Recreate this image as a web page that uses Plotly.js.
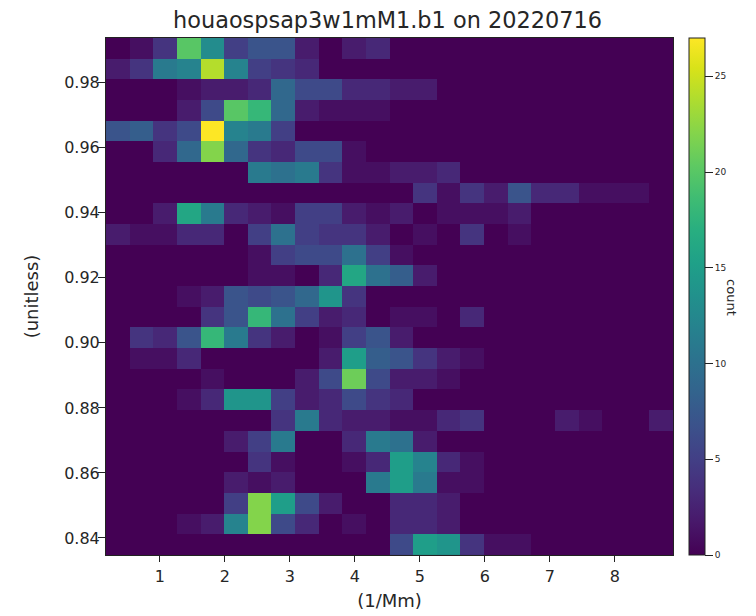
<!DOCTYPE html>
<html>
<head>
<meta charset="utf-8">
<script src="https://cdn.plot.ly/plotly-3.0.1.min.js"></script>
<style>html,body{margin:0;padding:0;background:#fff;}</style>
</head>
<body>
<div id="chart" style="width:756px;height:616px;"></div>
<script>
const xCenters = [0.352,0.715,1.079,1.442,1.806,2.169,2.533,2.896,3.26,3.623,3.987,4.35,4.714,5.077,5.441,5.804,6.168,6.531,6.895,7.258,7.622,7.985,8.349,8.712];
const yCentersTopFirst = [0.99059,0.98423,0.97787,0.97151,0.96515,0.95879,0.95243,0.94607,0.93971,0.93335,0.92699,0.92063,0.91427,0.90791,0.90155,0.89519,0.88883,0.88247,0.87611,0.86975,0.86339,0.85703,0.85067,0.84431,0.83795];
const countsTopFirst = [
[0,1,4,20,13,5,7,7,2,0,2,3,0,0,0,0,0,0,0,0,0,0,0,0],
[2,4,11,12,24,12,5,4,3,0,0,0,0,0,0,0,0,0,0,0,0,0,0,0],
[0,0,0,1,2,2,3,9,6,6,3,3,2,2,0,0,0,0,0,0,0,0,0,0],
[0,0,0,2,6,20,18,9,2,1,1,1,0,0,0,0,0,0,0,0,0,0,0,0],
[7,8,4,6,27,12,11,5,0,0,0,0,0,0,0,0,0,0,0,0,0,0,0,0],
[0,0,3,9,22,9,4,3,6,6,1,0,0,0,0,0,0,0,0,0,0,0,0,0],
[0,0,0,0,0,0,11,10,11,4,1,1,2,2,3,0,0,0,0,0,0,0,0,0],
[0,0,0,0,0,0,0,0,0,0,0,0,0,4,1,4,2,7,3,3,1,1,1,0],
[0,0,2,16,11,3,2,1,5,5,2,1,2,0,1,1,1,2,0,0,0,0,0,0],
[2,1,1,3,3,0,5,10,5,4,4,2,0,1,0,4,0,1,0,0,0,0,0,0],
[0,0,0,0,0,0,1,5,6,6,10,5,1,0,0,0,0,0,0,0,0,0,0,0],
[0,0,0,0,0,0,1,1,0,3,16,10,8,2,0,0,0,0,0,0,0,0,0,0],
[0,0,0,1,2,7,6,7,9,14,4,0,0,0,0,0,0,0,0,0,0,0,0,0],
[0,0,0,0,4,7,18,10,5,2,3,0,1,1,0,3,0,0,0,0,0,0,0,0],
[0,4,3,7,18,11,4,2,0,1,5,7,2,0,0,0,0,0,0,0,0,0,0,0],
[0,1,1,3,0,0,0,0,0,2,15,8,7,4,2,1,0,0,0,0,0,0,0,0],
[0,0,0,0,1,0,0,0,2,6,21,6,2,2,1,0,0,0,0,0,0,0,0,0],
[0,0,0,1,3,14,14,5,2,3,6,4,3,0,0,0,0,0,0,0,0,0,0,0],
[0,0,0,0,0,0,0,4,11,3,2,2,1,1,3,4,0,0,0,2,1,0,0,2],
[0,0,0,0,0,2,5,11,0,0,3,11,10,2,0,0,0,0,0,0,0,0,0,0],
[0,0,0,0,0,0,4,1,0,0,1,3,15,12,3,1,0,0,0,0,0,0,0,0],
[0,0,0,0,0,2,1,2,0,0,0,11,15,11,1,1,0,0,0,0,0,0,0,0],
[0,0,0,0,0,5,22,15,6,2,0,0,3,3,2,0,0,0,0,0,0,0,0,0],
[0,0,0,1,2,12,22,6,3,0,1,0,3,3,2,0,0,0,0,0,0,0,0,0],
[0,0,0,0,0,0,0,0,0,0,0,0,6,15,14,4,1,1,0,0,0,0,0,0]
];
const colorbarTicks = [0,5,10,15,20,25];
const chartTitle = 'houaospsap3w1mM1.b1 on 20220716';
const xLabel = '(1/Mm)';
const yLabel = '(unitless)';
const colorbarLabel = 'count';

const FONT = 'DejaVu Sans, sans-serif';
const INK = '#262626';

const trace = {
  type: 'heatmap',
  x: xCenters,
  y: yCentersTopFirst.slice().reverse(),
  z: countsTopFirst.slice().reverse(),
  colorscale: 'Viridis',
  zmin: 0,
  zmax: 27,
  colorbar: {
    x: 1.0282,
    xanchor: 'left',
    xpad: 0,
    ypad: 0,
    y: 0.5,
    yanchor: 'middle',
    len: 1,
    thickness: 16,
    outlinewidth: 1,
    outlinecolor: '#222',
    tickmode: 'array',
    tickvals: colorbarTicks,
    ticks: 'outside',
    ticklen: 8,
    tickwidth: 1,
    tickcolor: '#222',
    tickfont: {family: FONT, size: 9, color: INK}
  }
};

const layout = {
  width: 756,
  height: 616,
  autosize: false,
  paper_bgcolor: '#ffffff',
  plot_bgcolor: '#440154',
  margin: {l: 106, r: 83, t: 38, b: 61, pad: 0},
  title: {text: chartTitle, font: {family: FONT, size: 22.4, color: INK}, xref: 'paper', x: 0.4965, xanchor: 'center', yref: 'container', y: 0.9675, yanchor: 'middle'},
  xaxis: {
    range: [0.17, 8.894],
    tickmode: 'linear', tick0: 0, dtick: 1,
    ticks: 'outside', ticklen: 6, tickwidth: 1, tickcolor: '#222',
    ticklabelstandoff: 1,
    showline: true, mirror: true, linecolor: '#222', linewidth: 1,
    showgrid: false, zeroline: false,
    tickfont: {family: FONT, size: 16, color: INK},
    title: {text: xLabel, font: {family: FONT, size: 18, color: INK}, standoff: 9}
  },
  yaxis: {
    range: [0.83477, 0.99375],
    tickmode: 'linear', tick0: 0.84, dtick: 0.02, tickformat: '.2f',
    ticks: 'outside', ticklen: 7, tickwidth: 1, tickcolor: '#222',
    ticklabelstandoff: -5,
    showline: true, mirror: true, linecolor: '#222', linewidth: 1,
    showgrid: false, zeroline: false,
    tickfont: {family: FONT, size: 16, color: INK},
    title: {text: yLabel, font: {family: FONT, size: 18, color: INK}, standoff: 20}
  },
  annotations: [{
    text: colorbarLabel, xref: 'paper', yref: 'paper', x: 1.104, y: 0.497,
    xanchor: 'center', yanchor: 'middle', textangle: 90, showarrow: false,
    font: {family: FONT, size: 13, color: INK}
  }]
};

Plotly.newPlot('chart', [trace], layout, {displayModeBar: false, staticPlot: true});
</script>
</body>
</html>
